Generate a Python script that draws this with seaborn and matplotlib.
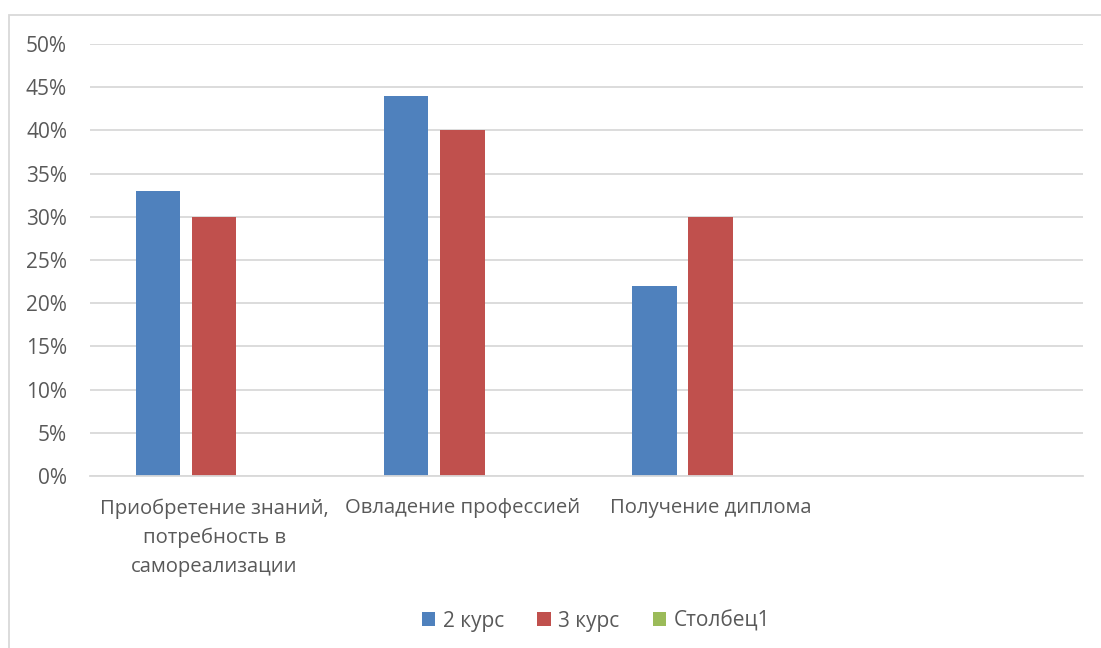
import numpy as np
import pandas as pd
import matplotlib
matplotlib.use("Agg")
import matplotlib.pyplot as plt
from matplotlib.patches import Patch, Rectangle
import seaborn as sns

categories = ["Приобретение знаний,\nпотребность в\nсамореализации",
              "Овладение профессией",
              "Получение диплома",
              ""]
series = ["2 курс", "3 курс", "Столбец1"]
course2 = [0.33, 0.44, 0.22, np.nan]
course3 = [0.30, 0.40, 0.30, np.nan]
column1 = [np.nan, np.nan, np.nan, np.nan]
yticks = [0, 0.05, 0.10, 0.15, 0.20, 0.25, 0.30, 0.35, 0.40, 0.45, 0.50]

colors = ["#4F81BD", "#C0504D", "#9BBB59"]
text_color = "#595959"
grid_color = "#D9D9D9"

df = pd.DataFrame({
    "category": categories * 3,
    "series": [s for s in series for _ in categories],
    "value": course2 + course3 + column1,
})

sns.set_theme(style="white")
plt.rcParams["font.family"] = ["Open Sans", "DejaVu Sans"]

fig = plt.figure(figsize=(11.01, 6.48), dpi=100)
ax = fig.add_axes([90 / 1101, 1 - 476 / 648, 993 / 1101, 432 / 648])

sns.barplot(data=df, x="category", y="value", hue="series",
            order=categories, hue_order=series, palette=colors,
            width=0.68, gap=0.21, saturation=1, legend=False,
            linewidth=0, ax=ax)

ax.set_xlim(-0.5, len(categories) - 0.5)
ax.set_ylim(0, 0.5)
ax.set_yticks(yticks)
ax.set_yticklabels([f"{round(t * 100)}%" for t in yticks])
ax.set_xlabel("")
ax.set_ylabel("")
ax.yaxis.grid(True, color=grid_color, linewidth=1.3)
ax.set_axisbelow(True)
for side in ["top", "right", "left"]:
    ax.spines[side].set_visible(False)
ax.spines["bottom"].set_color(grid_color)
ax.spines["bottom"].set_linewidth(1.3)
ax.tick_params(axis="both", length=0, colors=text_color)
ax.tick_params(axis="y", pad=16.5, labelsize=15)
ax.tick_params(axis="x", pad=16, labelsize=14.6)
for lbl in ax.get_xticklabels():
    lbl.set_linespacing(1.6)
    lbl.set_horizontalalignment("center")

handles = [Patch(facecolor=c, edgecolor="none") for c in colors]
fig.legend(handles, series, loc="center", bbox_to_anchor=(596 / 1101, 1 - 621 / 648),
           ncol=3, frameon=False, fontsize=15, handlelength=0.65, handleheight=0.65,
           handletextpad=0.35, columnspacing=1.6, labelcolor=text_color)

# outer chart frame
fig.patches.append(Rectangle((9 / 1101, -0.1), 1.2, 1 - 15 / 648 + 0.1,
                             transform=fig.transFigure, fill=False,
                             edgecolor=grid_color, linewidth=1.3))

fig.savefig("out.png", dpi=100, facecolor="white")
